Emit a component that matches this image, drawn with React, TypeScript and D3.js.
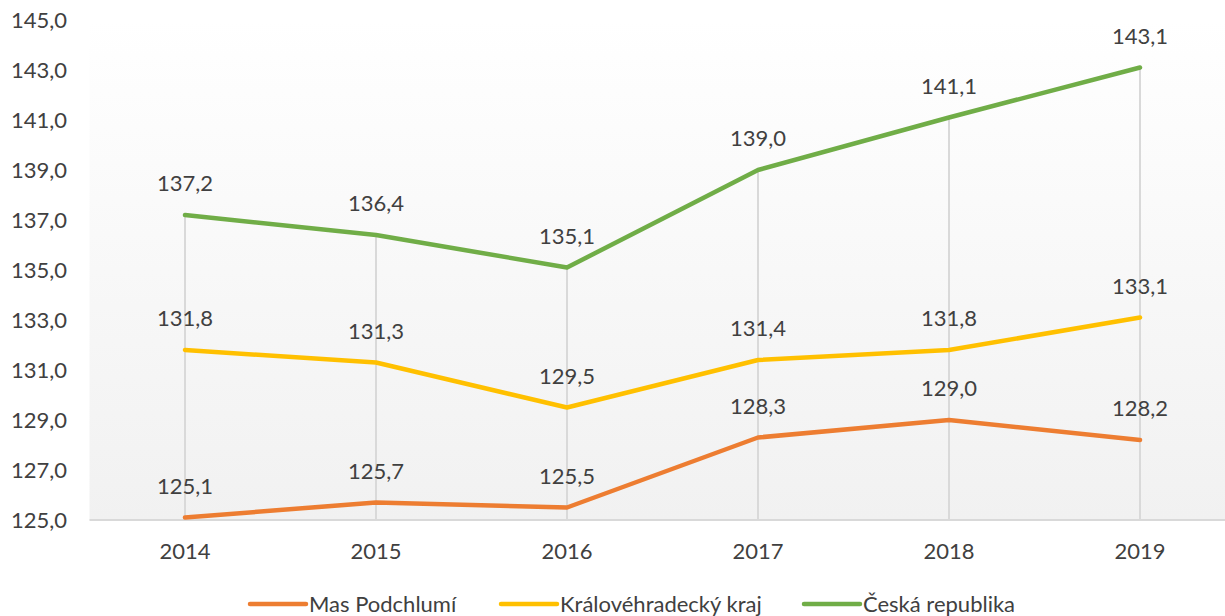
import React from "react";
import * as d3 from "d3";

const years = ["2014", "2015", "2016", "2017", "2018", "2019"];
const masPodchlumi = [125.1, 125.7, 125.5, 128.3, 129.0, 128.2];
const kralovehradecky = [131.8, 131.3, 129.5, 131.4, 131.8, 133.1];
const ceskaRepublika = [137.2, 136.4, 135.1, 139.0, 141.1, 143.1];
const yTicks = [125, 127, 129, 131, 133, 135, 137, 139, 141, 143, 145];

const series = [
  { name: "Mas Podchlumí", values: masPodchlumi, color: "#ED7D31" },
  { name: "Královéhradecký kraj", values: kralovehradecky, color: "#FFC000" },
  { name: "Česká republika", values: ceskaRepublika, color: "#70AD47" },
];

const W = 1225;
const H = 616;
const FONT = "Lato, 'Open Sans', sans-serif";
const TEXT = "#404040";

export default function App() {
  const x = d3.scaleBand<string>().domain(years).range([89.5, 1235.5]);
  const cx = (d: string) => (x(d) as number) + x.bandwidth() / 2;
  const y = d3.scaleLinear().domain([125, 145]).range([520, 20]);
  const fmt = (v: number) => d3.format(".1f")(v).replace(".", ",");
  const line = d3
    .line<number>()
    .x((_, i) => cx(years[i]))
    .y((v) => y(v));

  const legendX = [250, 501, 804];

  return (
    <div style={{ position: "absolute", left: 0, top: 0 }}>
      <svg width={W} height={H} style={{ display: "block" }}>
        <defs>
          <linearGradient id="bg" x1="0" y1="0" x2="0" y2="1">
            <stop offset="0" stopColor="#ffffff" />
            <stop offset="1" stopColor="#f1f1f1" />
          </linearGradient>
        </defs>
        <rect x={89.5} y={y(145)} width={1235.5 - 89.5} height={y(125) - y(145)} fill="url(#bg)" />
        {/* drop lines */}
        {years.map((yr, i) => {
          const maxV = d3.max(series, (s) => s.values[i]) as number;
          return (
            <line
              key={yr}
              x1={cx(yr)}
              x2={cx(yr)}
              y1={y(maxV)}
              y2={y(125)}
              stroke="#d9d9d9"
              strokeWidth={2}
            />
          );
        })}
        {/* x axis line */}
        <line x1={89.5} x2={1235.5} y1={y(125)} y2={y(125)} stroke="#d9d9d9" strokeWidth={2} />
        {/* y tick labels */}
        {yTicks.map((t) => (
          <text
            key={t}
            x={67}
            y={y(t) + 8}
            textAnchor="end"
            fontFamily={FONT}
            fontSize={22}
            fill={TEXT}
          >
            {fmt(t)}
          </text>
        ))}
        {/* x tick labels */}
        {years.map((yr) => (
          <text
            key={yr}
            x={cx(yr)}
            y={559}
            textAnchor="middle"
            fontFamily={FONT}
            fontSize={22}
            fill={TEXT}
          >
            {yr}
          </text>
        ))}
        {/* lines */}
        {series.map((s) => (
          <path
            key={s.name}
            d={line(s.values) as string}
            fill="none"
            stroke={s.color}
            strokeWidth={4.5}
            strokeLinecap="round"
            strokeLinejoin="round"
          />
        ))}
        {/* data labels */}
        {series.map((s) =>
          s.values.map((v, i) => (
            <text
              key={s.name + i}
              x={cx(years[i])}
              y={y(v) - 24}
              textAnchor="middle"
              fontFamily={FONT}
              fontSize={22}
              fill={TEXT}
            >
              {fmt(v)}
            </text>
          ))
        )}
        {/* legend */}
        {series.map((s, i) => (
          <g key={s.name} transform={`translate(${legendX[i]},604)`}>
            <line x1={0} x2={56} y1={0} y2={0} stroke={s.color} strokeWidth={4.5} strokeLinecap="round" />
            <text x={59} y={8} fontFamily={FONT} fontSize={22} fill={TEXT}>
              {s.name}
            </text>
          </g>
        ))}
      </svg>
    </div>
  );
}
